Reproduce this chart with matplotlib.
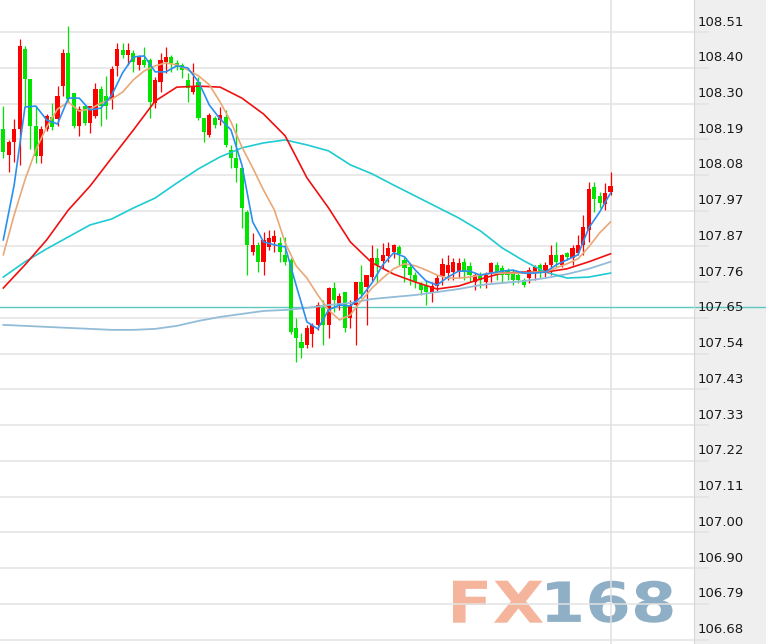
import matplotlib
matplotlib.use('Agg')
import matplotlib.pyplot as plt
import matplotlib.transforms as mtransforms
from matplotlib.patches import Rectangle, PathPatch
from matplotlib.textpath import TextPath
from matplotlib.font_manager import FontProperties
import numpy as np

# candle data, oldest first (red = up, green = down)
open_ = [108.218, 108.140, 108.179, 108.218, 108.459, 108.369, 108.227, 108.137, 108.218, 108.254,
         108.248, 108.347, 108.447, 108.326, 108.227, 108.287, 108.236, 108.257, 108.338, 108.317,
         108.308, 108.408, 108.456, 108.441, 108.447, 108.411, 108.426, 108.426, 108.296, 108.360,
         108.420, 108.435, 108.417, 108.411, 108.366, 108.329, 108.360, 108.251, 108.200, 108.251,
         108.245, 108.254, 108.155, 108.131, 108.101, 107.968, 107.848, 107.869, 107.818, 107.863,
         107.878, 107.875, 107.839, 107.824, 107.619, 107.577, 107.568, 107.601, 107.628, 107.679,
         107.628, 107.739, 107.691, 107.727, 107.649, 107.688, 107.757, 107.742, 107.772, 107.830,
         107.821, 107.836, 107.848, 107.863, 107.824, 107.803, 107.778, 107.751, 107.745, 107.724,
         107.745, 107.775, 107.784, 107.787, 107.787, 107.818, 107.806, 107.757, 107.775, 107.757,
         107.784, 107.809, 107.800, 107.793, 107.787, 107.778, 107.763, 107.769, 107.784, 107.809,
         107.787, 107.809, 107.839, 107.809, 107.845, 107.830, 107.845, 107.869, 107.914, 108.043,
         108.016, 107.992, 108.028]
close = [108.149, 108.179, 108.218, 108.468, 108.369, 108.227, 108.137, 108.218, 108.257, 108.224,
         108.317, 108.447, 108.308, 108.227, 108.278, 108.236, 108.287, 108.338, 108.287, 108.287,
         108.399, 108.459, 108.441, 108.456, 108.420, 108.438, 108.411, 108.299, 108.366, 108.426,
         108.435, 108.417, 108.405, 108.396, 108.341, 108.344, 108.251, 108.209, 108.260, 108.230,
         108.260, 108.170, 108.131, 108.101, 107.980, 107.869, 107.869, 107.818, 107.884, 107.890,
         107.896, 107.848, 107.818, 107.607, 107.589, 107.559, 107.619, 107.628, 107.688, 107.628,
         107.739, 107.703, 107.715, 107.619, 107.688, 107.757, 107.721, 107.778, 107.830, 107.809,
         107.839, 107.860, 107.869, 107.842, 107.800, 107.778, 107.757, 107.733, 107.727, 107.745,
         107.769, 107.812, 107.809, 107.818, 107.815, 107.787, 107.778, 107.778, 107.763, 107.778,
         107.815, 107.787, 107.778, 107.778, 107.763, 107.763, 107.748, 107.793, 107.803, 107.787,
         107.809, 107.839, 107.818, 107.839, 107.833, 107.860, 107.869, 107.923, 108.037, 108.007,
         107.995, 108.025, 108.046]
high = [108.287, 108.185, 108.248, 108.489, 108.468, 108.369, 108.287, 108.227, 108.263, 108.296,
        108.347, 108.459, 108.528, 108.326, 108.287, 108.287, 108.287, 108.357, 108.347, 108.378,
        108.408, 108.477, 108.477, 108.477, 108.456, 108.441, 108.465, 108.432, 108.375, 108.447,
        108.465, 108.441, 108.426, 108.417, 108.387, 108.417, 108.375, 108.251, 108.266, 108.257,
        108.284, 108.275, 108.170, 108.236, 108.104, 107.974, 107.905, 107.878, 107.908, 107.914,
        107.914, 107.893, 107.893, 107.830, 107.649, 107.604, 107.628, 107.634, 107.697, 107.703,
        107.742, 107.757, 107.724, 107.727, 107.703, 107.757, 107.809, 107.778, 107.869, 107.860,
        107.875, 107.878, 107.872, 107.869, 107.833, 107.815, 107.787, 107.757, 107.763, 107.757,
        107.778, 107.830, 107.839, 107.830, 107.830, 107.830, 107.818, 107.784, 107.787, 107.787,
        107.818, 107.818, 107.809, 107.800, 107.793, 107.784, 107.769, 107.803, 107.809, 107.815,
        107.818, 107.869, 107.878, 107.842, 107.848, 107.869, 107.899, 107.959, 108.058, 108.058,
        108.028, 108.055, 108.089]
low = [108.131, 108.089, 108.119, 108.110, 108.287, 108.158, 108.116, 108.116, 108.212, 108.215,
       108.227, 108.317, 108.299, 108.221, 108.197, 108.230, 108.206, 108.251, 108.227, 108.248,
       108.278, 108.378, 108.432, 108.411, 108.390, 108.396, 108.405, 108.251, 108.281, 108.329,
       108.387, 108.390, 108.396, 108.372, 108.299, 108.323, 108.245, 108.179, 108.194, 108.221,
       108.230, 108.164, 108.101, 108.058, 107.920, 107.778, 107.839, 107.787, 107.778, 107.854,
       107.848, 107.818, 107.809, 107.601, 107.517, 107.529, 107.559, 107.562, 107.613, 107.568,
       107.589, 107.667, 107.673, 107.607, 107.619, 107.568, 107.709, 107.628, 107.760, 107.754,
       107.800, 107.818, 107.830, 107.809, 107.757, 107.748, 107.739, 107.718, 107.688, 107.697,
       107.727, 107.748, 107.763, 107.763, 107.769, 107.763, 107.757, 107.733, 107.739, 107.739,
       107.757, 107.763, 107.757, 107.763, 107.748, 107.754, 107.742, 107.754, 107.763, 107.769,
       107.772, 107.778, 107.803, 107.803, 107.824, 107.809, 107.839, 107.839, 107.878, 107.968,
       107.980, 107.974, 108.019]

# moving average lines (every 2nd / 4th candle)
ma5 = [107.884, 108.049, 108.284, 108.287, 108.245, 108.233, 108.311, 108.311, 108.275, 108.281,
       108.320, 108.387, 108.435, 108.438, 108.390, 108.390, 108.408, 108.402, 108.360, 108.290,
       108.248, 108.215, 108.110, 107.938, 107.878, 107.869, 107.863, 107.748, 107.637, 107.616,
       107.673, 107.688, 107.685, 107.712, 107.754, 107.809, 107.845, 107.833, 107.793, 107.760,
       107.748, 107.772, 107.790, 107.790, 107.778, 107.784, 107.790, 107.793, 107.784, 107.784,
       107.787, 107.809, 107.824, 107.839, 107.920, 107.968, 108.025]
ma10 = [107.839, 107.959, 108.065, 108.155, 108.224, 108.278, 108.299, 108.272, 108.278, 108.296,
        108.308, 108.329, 108.366, 108.393, 108.408, 108.417, 108.411, 108.396, 108.378, 108.351,
        108.299, 108.239, 108.164, 108.101, 108.034, 107.974, 107.875, 107.806, 107.769, 107.718,
        107.673, 107.643, 107.658, 107.700, 107.739, 107.769, 107.797, 107.812, 107.806, 107.793,
        107.778, 107.769, 107.769, 107.772, 107.778, 107.784, 107.784, 107.784, 107.784, 107.787,
        107.787, 107.800, 107.812, 107.827, 107.863, 107.905, 107.938]
ma20 = [107.739, 107.809, 107.884, 107.974, 108.046, 108.131, 108.215, 108.302, 108.344, 108.347,
        108.344, 108.311, 108.263, 108.197, 108.071, 107.980, 107.878, 107.815, 107.781, 107.757,
        107.736, 107.745, 107.766, 107.784, 107.787, 107.787, 107.797, 107.818, 107.842]
ma60 = [107.772, 107.818, 107.857, 107.893, 107.929, 107.947, 107.980, 108.010, 108.055, 108.098,
        108.134, 108.161, 108.176, 108.185, 108.170, 108.152, 108.110, 108.083, 108.049, 108.016,
        107.983, 107.950, 107.911, 107.860, 107.821, 107.787, 107.769, 107.772, 107.784]
ma_long = [107.628, 107.625, 107.622, 107.619, 107.616, 107.613, 107.613, 107.616, 107.625, 107.640,
           107.652, 107.661, 107.670, 107.673, 107.679, 107.688, 107.694, 107.706, 107.712, 107.718,
           107.727, 107.736, 107.748, 107.754, 107.760, 107.769, 107.781, 107.797, 107.818]

ref_price = 107.682
y_labels = ['108.51', '108.40', '108.30', '108.19', '108.08', '107.97', '107.87', '107.76', '107.65',
            '107.54', '107.43', '107.33', '107.22', '107.11', '107.00', '106.90', '106.79', '106.68']

W, H = 766, 644
PLOT_W = 694
fig = plt.figure(figsize=(W / 100, H / 100), dpi=100)
fig.patch.set_facecolor('white')
fig.add_artist(Rectangle((PLOT_W / W, 0), 1 - PLOT_W / W, 1, transform=fig.transFigure,
                         facecolor='#efefef', edgecolor='none', zorder=-1))


def watermark(txt, x0, x1, y_top, y_bot, color):
    # text stretched into a pixel box (top-left origin)
    tp = TextPath((0, 0), txt, size=50, prop=FontProperties(family='DejaVu Sans', weight='bold'))
    bb = tp.get_extents()
    tr = (mtransforms.Affine2D()
          .translate(-bb.x0, -bb.y0)
          .scale((x1 - x0) / bb.width, (y_bot - y_top) / bb.height)
          .translate(x0, H - y_bot)
          .scale(1 / 100.0)) + fig.dpi_scale_trans
    fig.add_artist(PathPatch(tp, transform=tr, facecolor=color, edgecolor='none', zorder=-0.5))


watermark('FX', 453, 543, 580.7, 622.7, '#f5b59c')
watermark('168', 547, 672.5, 580.7, 622.7, '#8eafc5')

ax = fig.add_axes([0, 0, PLOT_W / W, 1])
ax.set_facecolor('none')
ax.set_xlim(-0.61, 127.4)
ax.set_ylim(106.667, 108.6064)
for s in ['top', 'left', 'bottom']:
    ax.spines[s].set_visible(False)
ax.spines['right'].set_color('#d6d6d6')
ax.set_xticks([])
ax.set_yticks([])

# grid + labels
grid_vals = np.linspace(108.51, 106.68, len(y_labels))
lab_tr = mtransforms.offset_copy(ax.get_yaxis_transform(), fig=fig, x=4, y=10, units='dots')
for v, s in zip(grid_vals, y_labels):
    ax.axhline(v, xmin=0, xmax=708 / PLOT_W, color='#e3e3e3', lw=1.1, zorder=1, clip_on=False)
    ax.text(1.0, v, s, transform=lab_tr, ha='left', va='center', fontsize=9.5,
            color='#1a1a1a', clip_on=False)

n = len(close)
x = np.arange(n)
ax.axvline(n - 1, color='#e0e0e0', lw=1.1, zorder=1)
ax.axhline(ref_price, xmin=0, xmax=W / PLOT_W, color='#5cc9c0', lw=1.0, zorder=2, clip_on=False)

o = np.array(open_)
c = np.array(close)
cols = np.where(c >= o, '#ff0000', '#00e400')
ax.vlines(x, low, high, colors=cols, lw=0.9, zorder=3)
body = np.maximum(np.abs(c - o), 0.004)
ax.bar(x, body, width=0.76, bottom=np.minimum(o, c), color=cols, linewidth=0, zorder=3)

x2 = np.arange(0, n, 2)
x4 = np.arange(0, n, 4)
ax.plot(x4, ma_long, color='#93bcd8', lw=1.3, zorder=4)
ax.plot(x4, ma60, color='#1ecbd2', lw=1.2, zorder=4)
ax.plot(x4, ma20, color='#f01010', lw=1.2, zorder=4)
ax.plot(x2, ma10, color='#e9a877', lw=1.2, zorder=4)
ax.plot(x2, ma5, color='#2b8ff0', lw=1.2, zorder=4)

fig.savefig('out.png', dpi=100)
